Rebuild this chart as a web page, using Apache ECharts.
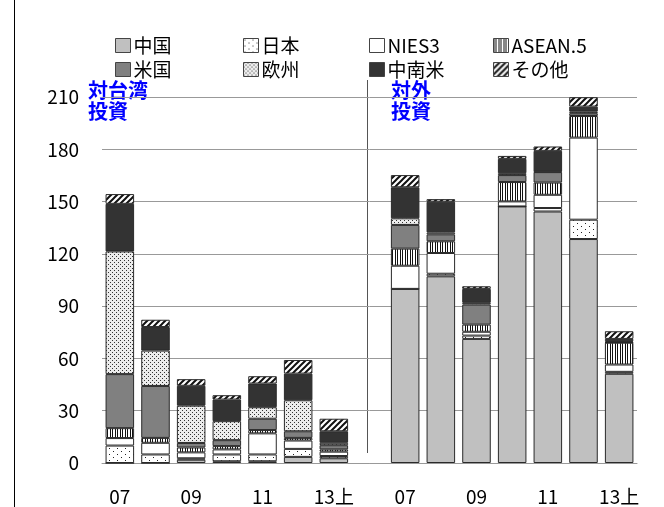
<html lang="ja">
<head>
    <meta charset="UTF-8">
    <title>対台湾投資・対外投資</title>
    <style>
        body { margin: 0; background: #fff; }
        #container { width: 664px; height: 507px; }
    </style>
</head>
<body>
<div id="container"></div>
<script src="https://cdn.jsdelivr.net/npm/echarts/dist/echarts.min.js"></script>
<script>
    // 年 (左: 対台湾投資, 右: 対外投資, 間は空き)
    var years = ['07', '08', '09', '10', '11', '12', '13上'];
    var categories = years.concat([''], years);

    var seriesNames = ['中国', '日本', 'NIES3', 'ASEAN.5', '米国', '欧州', '中南米', 'その他'];
    var yTicks = [0, 30, 60, 90, 120, 150, 180, 210];

    // 対台湾投資
    var inChina   = [0, 0, 1.9, 1.0, 1.0, 3.5, 2.7];
    var inJapan   = [10.0, 4.9, 0.8, 3.9, 3.9, 4.6, 1.3];
    var inNies    = [4.3, 6.7, 3.4, 2.9, 12.1, 4.8, 2.5];
    var inAsean   = [5.7, 2.8, 2.8, 1.9, 1.9, 1.5, 1.3];
    var inUs      = [31.0, 29.8, 2.6, 3.4, 6.5, 3.8, 2.4];
    var inEurope  = [70.4, 20.3, 21.4, 10.9, 6.6, 17.8, 1.4];
    var inLatam   = [27.3, 13.5, 11.4, 12.4, 13.6, 15.3, 6.6];
    var inOther   = [5.6, 4.2, 3.8, 2.5, 4.2, 7.8, 7.2];

    // 対外投資
    var outChina  = [99.9, 107.1, 71.2, 147.2, 144.3, 128.5, 51.2];
    var outJapan  = [0, 1.5, 1.9, 0, 2.0, 11.1, 1.1];
    var outNies   = [13.3, 11.9, 2.2, 2.9, 7.6, 47.1, 4.2];
    var outAsean  = [9.8, 6.7, 4.1, 11.1, 7.0, 12.4, 12.5];
    var outUs     = [13.6, 4.0, 11.5, 4.0, 6.0, 1.6, 0.3];
    var outEurope = [3.8, 1.1, 1.0, 1.1, 0.3, 0.9, 0.6];
    var outLatam  = [17.8, 17.6, 8.0, 8.2, 11.9, 2.9, 1.3];
    var outOther  = [7.0, 1.5, 1.5, 1.7, 2.5, 5.4, 4.4];

    var inData = [inChina, inJapan, inNies, inAsean, inUs, inEurope, inLatam, inOther];
    var outData = [outChina, outJapan, outNies, outAsean, outUs, outEurope, outLatam, outOther];

    // 模様
    function makePattern(w, h, draw) {
        var c = document.createElement('canvas');
        c.width = w;
        c.height = h;
        var ctx = c.getContext('2d');
        ctx.fillStyle = '#ffffff';
        ctx.fillRect(0, 0, w, h);
        draw(ctx);
        return {image: c, repeat: 'repeat'};
    }
    var sparseDots = makePattern(8, 6, function (ctx) {
        ctx.fillStyle = '#222';
        ctx.fillRect(1, 1, 1, 1);
        ctx.fillRect(5, 4, 1, 1);
    });
    var denseDots = makePattern(4, 4, function (ctx) {
        ctx.fillStyle = '#ececec';
        ctx.fillRect(0, 0, 4, 4);
        ctx.fillStyle = '#333';
        ctx.fillRect(0, 0, 1, 1);
        ctx.fillRect(2, 2, 1, 1);
    });
    var vStripes = makePattern(5, 1, function (ctx) {
        ctx.fillStyle = '#111';
        ctx.fillRect(0, 0, 1, 1);
        ctx.fillRect(2, 0, 1, 1);
    });
    var hatch = makePattern(6, 6, function (ctx) {
        ctx.strokeStyle = '#111';
        ctx.lineWidth = 2;
        ctx.beginPath();
        ctx.moveTo(0, 6); ctx.lineTo(6, 0);
        ctx.moveTo(-1, 1); ctx.lineTo(1, -1);
        ctx.moveTo(5, 7); ctx.lineTo(7, 5);
        ctx.stroke();
    });

    var fills = ['#c0c0c0', sparseDots, '#ffffff', vStripes, '#808080', denseDots, '#333333', hatch];

    var series = [];
    for (var i = 0; i < seriesNames.length; i++) {
        series.push({
            name: seriesNames[i],
            type: 'bar',
            stack: 'total',
            barWidth: '80%',
            data: inData[i].concat([null], outData[i]),
            itemStyle: {
                color: fills[i],
                borderColor: '#2a2a2a',
                borderWidth: 1
            }
        });
    }

    var font = '"Noto Sans CJK JP", "Noto Sans", sans-serif';
    var legendLeft = [110, 238, 364, 488];
    var legends = [];
    for (var k = 0; k < 4; k++) {
        legends.push({
            orient: 'vertical',
            left: legendLeft[k],
            top: 31,
            itemGap: 5,
            itemWidth: 15,
            itemHeight: 14,
            icon: 'rect',
            selectedMode: false,
            itemStyle: {borderColor: '#444', borderWidth: 1},
            textStyle: {fontSize: 19, color: '#000', fontFamily: font, padding: [0, 0, 0, -2]},
            data: [seriesNames[k], seriesNames[k + 4]]
        });
    }

    var chart = echarts.init(document.getElementById('container'));
    chart.setOption({
        animation: false,
        backgroundColor: '#ffffff',
        legend: legends,
        grid: {left: 102, right: 27, top: 97, bottom: 44},
        xAxis: {
            type: 'category',
            data: categories,
            axisTick: {show: false},
            axisLine: {show: true, lineStyle: {color: '#999'}},
            axisLabel: {
                interval: 1,
                margin: 24,
                fontSize: 19,
                color: '#000',
                fontFamily: font
            }
        },
        yAxis: {
            type: 'value',
            min: yTicks[0],
            max: yTicks[yTicks.length - 1],
            interval: 30,
            axisLine: {show: false},
            axisTick: {show: false},
            splitLine: {lineStyle: {color: '#999', width: 1}},
            axisLabel: {
                margin: 23,
                fontSize: 19,
                color: '#000',
                fontFamily: font
            }
        },
        graphic: [
            {type: 'line', shape: {x1: 14.5, y1: 0, x2: 14.5, y2: 507}, style: {stroke: '#000', lineWidth: 1}},
            // 区切りの脇で目盛線を切る
            {type: 'rect', shape: {x: 369, y: 90, width: 7, height: 368}, style: {fill: '#ffffff'}},
            {type: 'line', shape: {x1: 367.5, y1: 80, x2: 367.5, y2: 453}, style: {stroke: '#555', lineWidth: 1}},
            {type: 'text', left: 88, top: 80, style: {text: '対台湾\n投資', fill: '#0000ff', font: 'bold 20px ' + font, lineHeight: 21}},
            {type: 'text', left: 391, top: 80, style: {text: '対外\n投資', fill: '#0000ff', font: 'bold 20px ' + font, lineHeight: 21}}
        ],
        series: series
    });
</script>
</body>
</html>
